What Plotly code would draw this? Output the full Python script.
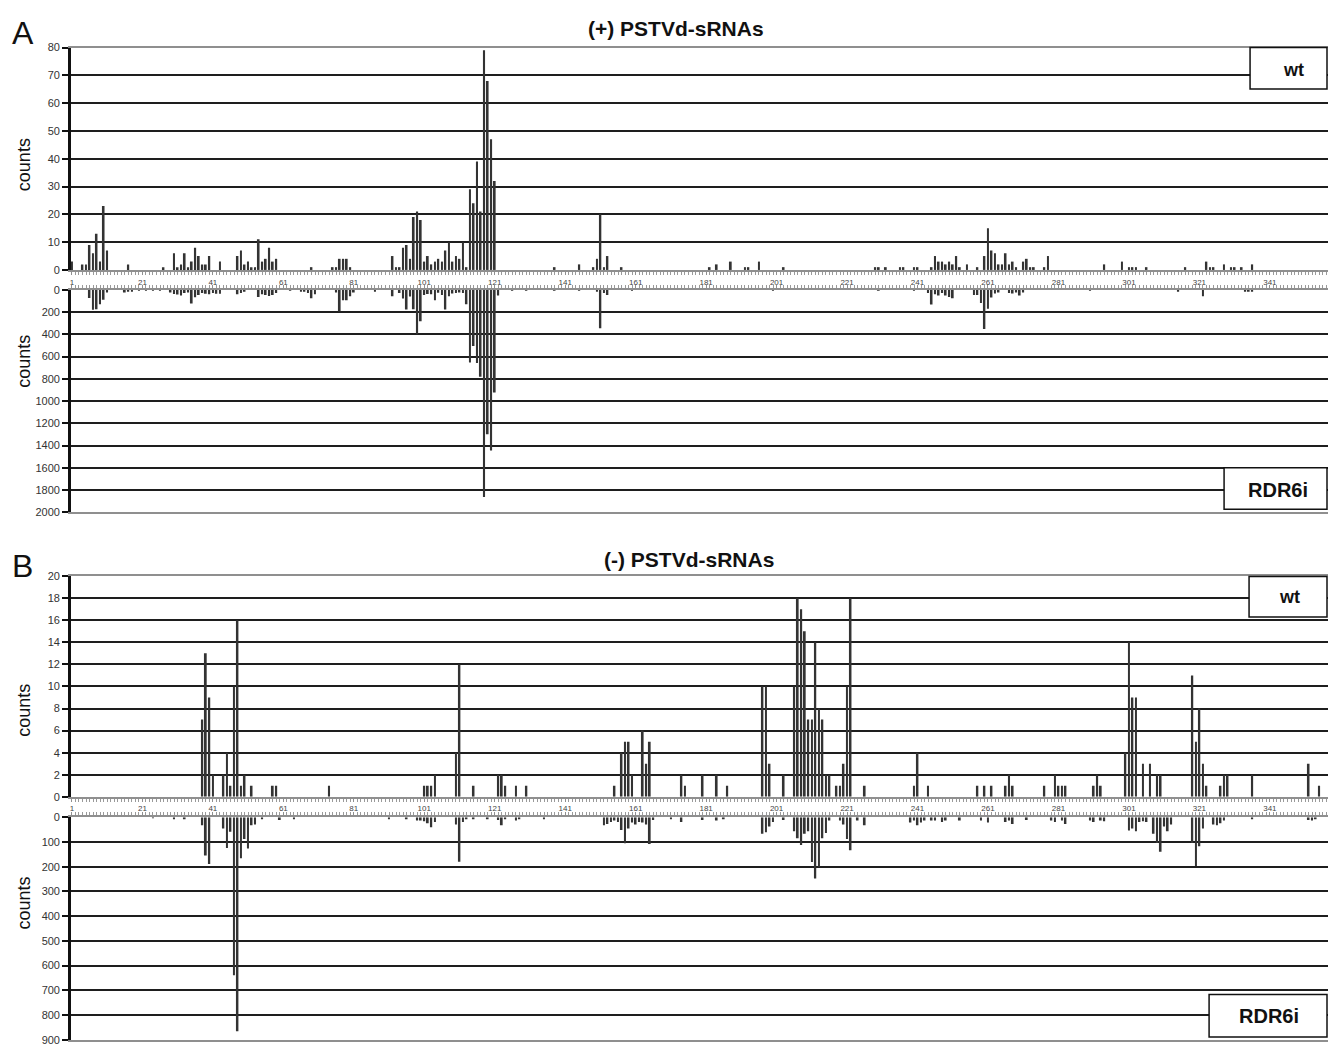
import plotly.graph_objects as go

W, H = 1328, 1047

# ---------------- data ----------------
positions_ticks = [1, 21, 41, 61, 81, 101, 121, 141, 161, 181, 201, 221, 241, 261, 281, 301, 321, 341]

# (+) PSTVd-sRNAs, wt
plus_wt_pos = [1, 4, 5, 6, 7, 8, 9, 10, 11, 17, 27, 30, 31, 32, 33, 34, 35, 36, 37, 38, 39, 40, 43,
               48, 49, 50, 51, 52, 53, 54, 55, 56, 57, 58, 59, 69, 75, 76, 77, 78, 79, 80,
               92, 93, 94, 95, 96, 97, 98, 99, 100, 101, 102, 103, 104, 105, 106, 107, 108, 109, 110,
               111, 112, 113, 114, 115, 116, 117, 118, 119, 120, 121, 138, 145, 149, 150, 151, 152, 153, 157,
               182, 184, 188, 192, 193, 196, 203, 229, 230, 232, 236, 237, 240, 241, 245, 246, 247, 248,
               249, 250, 251, 252, 253, 255, 258, 260, 261, 262, 263, 264, 265, 266, 267, 268, 269, 271,
               272, 273, 274, 277, 278, 294, 299, 301, 302, 303, 306, 317, 323, 324, 325, 328, 330, 331, 333, 336]
plus_wt_cnt = [3, 2, 2, 9, 6, 13, 3, 23, 7, 2, 1, 6, 1, 2, 6, 1, 3, 8, 5, 2, 2, 5, 3,
               5, 7, 2, 3, 1, 1, 11, 3, 4, 8, 3, 4, 1, 1, 1, 4, 4, 4, 1,
               5, 1, 1, 8, 9, 4, 19, 21, 18, 3, 5, 2, 3, 4, 3, 7, 10, 3, 5,
               4, 10, 1, 29, 24, 39, 21, 79, 68, 47, 32, 1, 2, 1, 4, 20, 1, 5, 1,
               1, 2, 3, 1, 1, 3, 1, 1, 1, 1, 1, 1, 1, 1, 1, 5, 3, 3,
               2, 3, 2, 5, 1, 2, 1, 5, 15, 7, 6, 2, 2, 6, 2, 3, 1, 3,
               4, 1, 1, 1, 5, 2, 3, 1, 1, 1, 1, 1, 3, 1, 1, 2, 1, 1, 1, 2]

# (+) PSTVd-sRNAs, RDR6i
plus_rdr_pos = [6, 7, 8, 9, 10, 11, 16, 17, 18, 20, 22, 24, 26, 29, 30, 31, 32, 33, 34, 35, 36, 37, 38, 39,
                40, 41, 42, 43, 48, 49, 50, 54, 55, 56, 57, 58, 59, 63, 66, 67, 68, 69, 70, 76, 77, 78,
                79, 80, 81, 87, 92, 94, 95, 96, 97, 98, 99, 100, 101, 102, 103, 104, 105, 106, 107, 108,
                109, 110, 111, 112, 113, 114, 115, 116, 117, 118, 119, 120, 121, 122, 126, 130, 138, 145, 150,
                151, 152, 153, 160, 200, 230, 240, 244, 245, 246, 247, 248, 249, 250, 251, 257, 258, 259, 260,
                261, 262, 263, 264, 267, 268, 269, 270, 271, 290, 315, 322, 334, 335, 336]
plus_rdr_cnt = [75, 180, 175, 130, 90, 25, 24, 18, 12, 6, 5, 6, 5, 24, 38, 44, 53, 30, 24, 124, 68, 47, 30, 36,
                41, 30, 36, 36, 41, 30, 18, 65, 41, 47, 56, 47, 30, 8, 18, 12, 30, 77, 41, 24, 195, 95,
                95, 59, 24, 12, 59, 30, 80, 178, 60, 175, 400, 284, 47, 38, 41, 95, 27, 47, 178, 59,
                35, 29, 24, 29, 130, 653, 506, 659, 782, 1861, 1297, 1444, 923, 53, 8, 6, 6, 6, 18,
                347, 29, 47, 6, 5, 6, 8, 29, 132, 41, 53, 29, 53, 65, 76, 47, 47, 120, 353,
                170, 70, 35, 24, 29, 35, 24, 53, 24, 6, 18, 59, 12, 18, 12]

# (-) PSTVd-sRNAs, wt
minus_wt_pos = [38, 39, 40, 41, 44, 45, 46, 47, 48, 49, 50, 52, 58, 59, 74, 101, 102, 103, 104, 110, 111,
                115, 122, 123, 124, 127, 130, 155, 157, 158, 159, 160, 163, 164, 165, 174, 175, 180, 184,
                187, 197, 198, 199, 203, 206, 207, 208, 209, 210, 211, 212, 213, 214, 215, 216, 218, 219,
                220, 221, 222, 226, 240, 241, 244, 258, 260, 262, 266, 267, 268, 277, 280, 281, 282, 283,
                291, 292, 293, 300, 301, 302, 303, 305, 307, 309, 310, 319, 320, 321, 322, 323, 327, 328,
                329, 336, 352, 355]
minus_wt_cnt = [7, 13, 9, 2, 2, 4, 1, 10, 16, 1, 2, 1, 1, 1, 1, 1, 1, 1, 2, 4, 12,
                1, 2, 2, 1, 1, 1, 1, 4, 5, 5, 2, 6, 3, 5, 2, 1, 2, 2,
                1, 10, 10, 3, 2, 10, 18, 17, 15, 7, 7, 14, 8, 7, 2, 2, 1, 1,
                3, 10, 18, 1, 1, 4, 1, 1, 1, 1, 1, 2, 1, 1, 2, 1, 1, 1,
                1, 2, 1, 4, 14, 9, 9, 3, 3, 2, 2, 11, 5, 8, 3, 1, 1, 2,
                2, 2, 3, 1]

# (-) PSTVd-sRNAs, RDR6i
minus_rdr_pos = [24, 30, 33, 38, 39, 40, 44, 45, 46, 47, 48, 49, 50, 51, 52, 53, 55, 60, 64, 91, 96, 99, 100,
                 101, 102, 103, 104, 110, 111, 112, 113, 115, 119, 122, 123, 124, 127, 128, 135, 152, 153,
                 154, 155, 156, 157, 158, 159, 160, 161, 162, 163, 164, 165, 166, 171, 174, 180, 184, 186,
                 197, 198, 199, 200, 203, 206, 207, 208, 209, 210, 211, 212, 213, 214, 215, 216, 219, 220,
                 221, 222, 224, 226, 239, 240, 241, 242, 243, 245, 246, 248, 249, 253, 259, 261, 266, 267,
                 268, 272, 279, 280, 282, 283, 290, 291, 293, 294, 301, 302, 303, 304, 305, 306, 308, 309,
                 310, 311, 312, 313, 319, 320, 321, 322, 325, 326, 327, 328, 336, 352, 353, 354]
minus_rdr_cnt = [4, 5, 6, 32, 155, 189, 45, 124, 59, 639, 866, 166, 88, 126, 32, 29, 6, 11, 5, 8, 5, 13, 13,
                 16, 24, 40, 19, 29, 180, 19, 8, 8, 8, 11, 32, 8, 13, 8, 5, 32, 27,
                 19, 13, 19, 51, 105, 45, 21, 29, 19, 21, 29, 108, 11, 8, 19, 11, 13, 8,
                 67, 61, 37, 19, 11, 56, 85, 112, 67, 56, 181, 248, 200, 85, 64, 13, 13, 29,
                 88, 133, 13, 32, 21, 13, 32, 21, 13, 13, 13, 19, 13, 13, 13, 21, 19, 13,
                 27, 11, 13, 19, 13, 27, 13, 19, 13, 16, 53, 45, 56, 19, 16, 19, 67, 104,
                 139, 37, 56, 29, 104, 197, 117, 45, 29, 32, 24, 13, 5, 11, 13, 8]

yt_plus_wt = list(range(0, 81, 10))
yt_plus_rdr = list(range(0, 2001, 200))
yt_minus_wt = list(range(0, 21, 2))
yt_minus_rdr = list(range(0, 901, 100))


# ---------------- helpers ----------------
def px(x):
    return x / W


def py(y):
    return 1 - y / H


FONT = "Liberation Sans, Arial, sans-serif"
BAR_COLOR = "#333333"

fig = go.Figure()

series = [
    (plus_wt_pos, plus_wt_cnt, "x", "y"),
    (plus_rdr_pos, plus_rdr_cnt, "x2", "y2"),
    (minus_wt_pos, minus_wt_cnt, "x3", "y3"),
    (minus_rdr_pos, minus_rdr_cnt, "x4", "y4"),
]
for pos, cnt, xa, ya in series:
    fig.add_trace(go.Bar(
        x=pos, y=cnt, xaxis=xa, yaxis=ya, width=0.5,
        marker=dict(color=BAR_COLOR, line=dict(width=0)),
        showlegend=False, hoverinfo="skip",
    ))

XRANGE = [0.72, 357.5]
XDOM = [px(70), 1.0]


def xaxis(anchor, top=False):
    d = dict(
        domain=XDOM, range=XRANGE, anchor=anchor, showgrid=False, zeroline=False,
        showline=True, linecolor="#8f8f8f", linewidth=2, mirror=True,
        tickmode="array", tickvals=positions_ticks, ticktext=[str(v) for v in positions_ticks],
        ticks="outside", ticklen=3, tickwidth=1, tickcolor="#8f8f8f",
        minor=dict(ticks="outside", dtick=1, tick0=1, ticklen=3, tickwidth=1, tickcolor="#9a9a9a"),
        tickfont=dict(size=8, color="#444", family=FONT),
    )
    if top:
        d.update(side="top", showticklabels=False)
    return d


def yaxis(anchor, dom, rng, tv):
    return dict(
        domain=dom, range=rng, anchor=anchor, tickmode="array", tickvals=tv,
        showgrid=True, gridcolor="#1e1e1e", gridwidth=2, zeroline=False,
        showline=True, linecolor="#111", linewidth=2.5,
        ticks="outside", ticklen=6, tickwidth=2, tickcolor="#111",
        tickfont=dict(size=11, color="#333", family=FONT),
    )


fig.update_layout(
    width=W, height=H, margin=dict(l=0, r=0, t=0, b=0),
    paper_bgcolor="white", plot_bgcolor="white",
    bargap=0.5,
    xaxis=xaxis("y"),
    xaxis2=xaxis("y2", top=True),
    xaxis3=xaxis("y3"),
    xaxis4=xaxis("y4", top=True),
    yaxis=yaxis("x", [py(267), py(42)], [0, 80], yt_plus_wt),
    yaxis2=yaxis("x2", [py(512.3), py(287)], [2000, 0], yt_plus_rdr),
    yaxis3=yaxis("x3", [py(800), py(576.7)], [0, 20], yt_minus_wt),
    yaxis4=yaxis("x4", [py(1045.7), py(820.7)], [900, 0], yt_minus_rdr),
)

annotations = []


def txt(x, y, s, size, bold=False, angle=0):
    annotations.append(dict(
        x=px(x), y=py(y), xref="paper", yref="paper", text=(f"<b>{s}</b>" if bold else s),
        showarrow=False, textangle=angle, xanchor="center", yanchor="middle",
        font=dict(size=size, color="#111", family=FONT),
    ))


txt(22, 27, "A", 32)
txt(22, 566, "B", 32)
txt(676, 23, "(+) PSTVd-sRNAs", 21, bold=True)
txt(689, 560, "(-) PSTVd-sRNAs", 21, bold=True)
txt(23, 160, "counts", 18, angle=-90)
txt(23, 359, "counts", 18, angle=-90)
txt(23, 712, "counts", 18, angle=-90)
txt(23, 907, "counts", 18, angle=-90)

boxes = [
    (1250, 42, 1327, 84, "wt", 1293, 65, 18),
    (1224, 467, 1327, 509, "RDR6i", 1278, 490, 20),
    (1249, 577, 1327, 618, "wt", 1289, 598, 18),
    (1209, 1000, 1327, 1043, "RDR6i", 1269, 1022, 20),
]
shapes = []
for x0, y0, x1, y1, label, tx, ty, fs in boxes:
    shapes.append(dict(type="rect", xref="paper", yref="paper",
                       x0=px(x0), x1=px(x1), y0=py(y1), y1=py(y0),
                       line=dict(color="#111", width=1.5), fillcolor="white", layer="above"))
    txt(tx, ty, label, fs, bold=True)

fig.update_layout(annotations=annotations, shapes=shapes)

fig.write_html("out.html")
